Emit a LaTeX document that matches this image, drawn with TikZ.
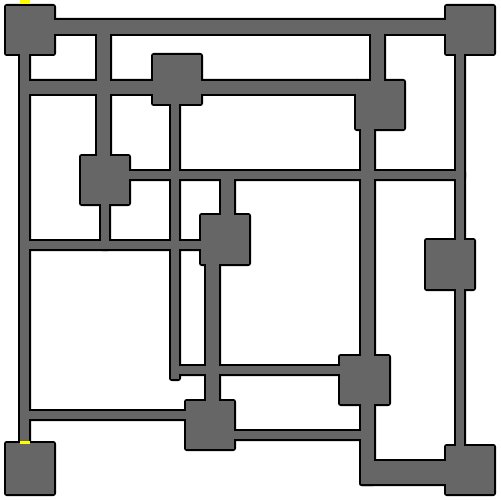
\documentclass[tikz,border=0pt]{standalone}
\definecolor{pavimento}{RGB}{102,102,102}
\definecolor{ingresso}{RGB}{255,255,0}

% Stanze (x1/y1/x2/y2 in pixel)
\newcommand{\stanze}{4/4/56/56, 444/4/496/56, 151/53/203/106, 354/79/406/131,
    79/154/131/206, 199/213/251/266, 424/238/476/291, 338/354/391/406,
    184/399/236/451, 4/441/56/496, 444/444/496/496}
% Corridoi
\newcommand{\corridoi}{50/18/450/36, 18/50/31/450, 95/20/112/160, 99/200/111/251,
    20/79/360/96, 369/20/386/85, 169/100/181/381, 125/169/466/181,
    454/50/466/450, 359/125/376/486, 359/459/450/486, 219/169/236/220,
    204/260/221/405, 20/239/205/251, 169/364/345/376, 20/409/190/421,
    230/429/365/441}

\begin{document}
\begin{tikzpicture}[x=0.02cm, y=-0.02cm]
    \useasboundingbox (0,0) rectangle (500,500);

    % Bordo
    \foreach \a/\b/\c/\d in \stanze
        \fill[black, rounded corners=1.5] (\a,\b) rectangle (\c,\d);
    \foreach \a/\b/\c/\d in \corridoi
        \fill[black, rounded corners=1.5] (\a,\b) rectangle (\c,\d);

    % Pavimento
    \foreach \a/\b/\c/\d in \stanze
        \fill[pavimento] (\a+2,\b+2) rectangle (\c-2,\d-2);
    \foreach \a/\b/\c/\d in \corridoi
        \fill[pavimento] (\a+2,\b+2) rectangle (\c-2,\d-2);

    % Ingressi
    \fill[ingresso] (20,0) rectangle (30,4.5);
    \fill[ingresso] (20,441) rectangle (30,444);
\end{tikzpicture}
\end{document}
